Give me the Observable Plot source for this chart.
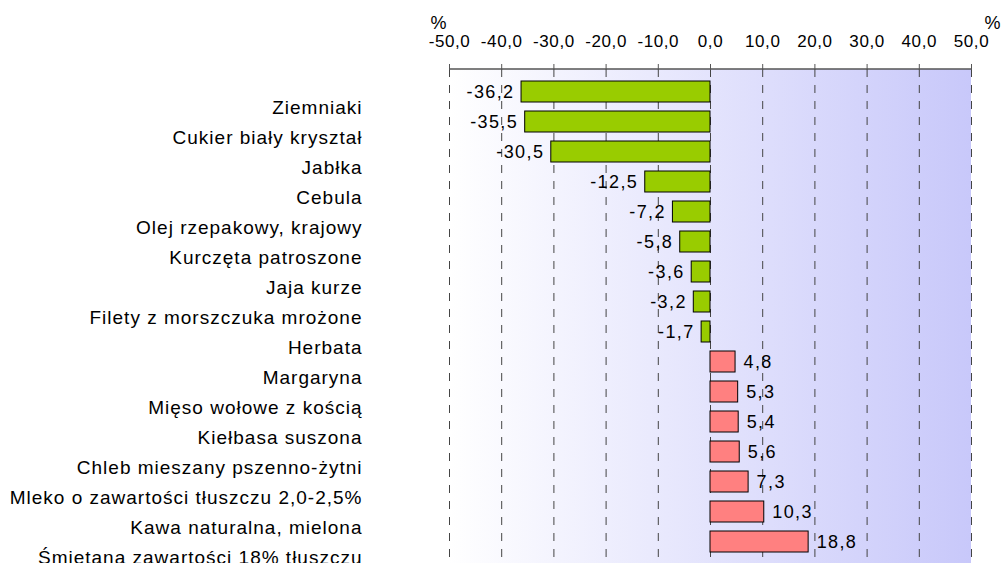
<!DOCTYPE html>
<html>
<head>
<meta charset="utf-8">
<script src="https://cdn.jsdelivr.net/npm/d3@7"></script>
<script src="https://cdn.jsdelivr.net/npm/@observablehq/plot@0.6"></script>
<style>
  html, body { margin: 0; padding: 0; background: #fff; }
  #wrap { position: relative; width: 1004px; height: 563px; overflow: hidden; }
  #wrap svg { display: block; position: absolute; left: 0; top: 0; }
</style>
</head>
<body>
<div id="wrap"></div>
<script>
const categories = [
  "Ziemniaki",
  "Cukier biały kryształ",
  "Jabłka",
  "Cebula",
  "Olej rzepakowy, krajowy",
  "Kurczęta patroszone",
  "Jaja kurze",
  "Filety z morszczuka mrożone",
  "Herbata",
  "Margaryna",
  "Mięso wołowe z kością",
  "Kiełbasa suszona",
  "Chleb mieszany pszenno-żytni",
  "Mleko o zawartości tłuszczu 2,0-2,5%",
  "Kawa naturalna, mielona",
  "Śmietana zawartości 18% tłuszczu"
];
const values = [-36.2, -35.5, -30.5, -12.5, -7.2, -5.8, -3.6, -3.2, -1.7, 4.8, 5.3, 5.4, 5.6, 7.3, 10.3, 18.8];
const xTicks = [-50, -40, -30, -20, -10, 0, 10, 20, 30, 40, 50];
const unitLabel = "%";

const data = categories.map((c, i) => ({category: c, value: values[i]}));
const fmt = v => v.toFixed(1).replace(".", ",");
const FONT = "Liberation Sans, Arial, sans-serif";

function background(index, scales, vals, dims) {
  const ns = "http://www.w3.org/2000/svg";
  const g = document.createElementNS(ns, "g");
  const defs = document.createElementNS(ns, "defs");
  const grad = document.createElementNS(ns, "linearGradient");
  grad.setAttribute("id", "bggrad");
  grad.setAttribute("x1", "0"); grad.setAttribute("x2", "1");
  grad.setAttribute("y1", "0"); grad.setAttribute("y2", "0");
  const s1 = document.createElementNS(ns, "stop");
  s1.setAttribute("offset", "0"); s1.setAttribute("stop-color", "#ffffff");
  const s2 = document.createElementNS(ns, "stop");
  s2.setAttribute("offset", "1"); s2.setAttribute("stop-color", "#c8c8fa");
  grad.appendChild(s1); grad.appendChild(s2);
  defs.appendChild(grad);
  g.appendChild(defs);
  const x0 = scales.x(xTicks[0]), x1 = scales.x(xTicks[xTicks.length - 1]);
  const rect = document.createElementNS(ns, "rect");
  rect.setAttribute("x", x0);
  rect.setAttribute("y", dims.marginTop);
  rect.setAttribute("width", x1 - x0);
  rect.setAttribute("height", dims.height - dims.marginTop - dims.marginBottom);
  rect.setAttribute("fill", "url(#bggrad)");
  g.appendChild(rect);
  return g;
}

function topLine(index, scales, vals, dims) {
  const ns = "http://www.w3.org/2000/svg";
  const line = document.createElementNS(ns, "line");
  line.setAttribute("x1", scales.x(xTicks[0]));
  line.setAttribute("x2", scales.x(xTicks[xTicks.length - 1]));
  line.setAttribute("y1", dims.marginTop);
  line.setAttribute("y2", dims.marginTop);
  line.setAttribute("stroke", "#555");
  line.setAttribute("stroke-width", "1.5");
  return line;
}

const chart = Plot.plot({
  width: 1004,
  height: 563,
  marginLeft: 449,
  marginRight: 33,
  marginTop: 69,
  marginBottom: 0,
  style: {fontFamily: FONT, fontSize: "17px", color: "#000", background: "transparent"},
  x: {domain: [-50, 50], label: null},
  y: {domain: categories, paddingInner: 0.3, paddingOuter: 0.15, axis: null},
  marks: [
    background,
    Plot.gridX(xTicks, {stroke: "#444", strokeOpacity: 1, strokeDasharray: "8,8", strokeWidth: 1}),
    Plot.barX(data, {
      x: "value", y: "category",
      fill: d => d.value < 0 ? "#99cc00" : "#ff8080",
      stroke: "#000", strokeWidth: 1
    }),
    Plot.axisX({
      anchor: "top", ticks: xTicks, tickFormat: fmt, label: null,
      tickSize: 6, tickPadding: 17, stroke: "#555",
      fontSize: 17, fill: "#000"
    }),
    topLine,
    Plot.text(data.filter(d => d.value < 0), {
      x: "value", y: "category", text: d => fmt(d.value),
      textAnchor: "end", dx: -7, fill: "#000", fontSize: 18
    }),
    Plot.text(data.filter(d => d.value >= 0), {
      x: "value", y: "category", text: d => fmt(d.value),
      textAnchor: "start", dx: 8, fill: "#000", fontSize: 18
    }),
    Plot.text([unitLabel], {
      text: d => d, frameAnchor: "top-left", textAnchor: "middle", lineAnchor: "middle",
      dx: -11, dy: -46, fill: "#000", fontSize: 18
    }),
    Plot.text([unitLabel], {
      text: d => d, frameAnchor: "top-right", textAnchor: "middle", lineAnchor: "middle",
      dx: 21, dy: -46, fill: "#000", fontSize: 18
    })
  ]
});

// category labels, on their own evenly spaced point scale (as in the reference)
const labels = Plot.plot({
  width: 1004,
  height: 563,
  marginLeft: 362,
  marginRight: 0,
  marginTop: 106,
  marginBottom: 5,
  style: {fontFamily: FONT, fontSize: "19px", color: "#000", background: "transparent"},
  x: {axis: null},
  y: {type: "point", domain: categories, padding: 0, axis: null},
  marks: [
    Plot.text(categories, {
      y: d => d, text: d => d, frameAnchor: "left",
      textAnchor: "end", fill: "#000", fontSize: 19
    })
  ]
});
labels.style.pointerEvents = "none";

const wrap = document.getElementById("wrap");
wrap.appendChild(chart);
wrap.appendChild(labels);
// widen glyph spacing to match the reference's stretched text
chart.querySelectorAll("text").forEach(t => {
  if (/^-?\d/.test(t.textContent)) t.style.letterSpacing = t.closest("[aria-label='x-axis tick label']") ? "0.6px" : "1.4px";
});
labels.querySelectorAll("text").forEach(t => t.style.letterSpacing = "1px");
</script>
</body>
</html>
